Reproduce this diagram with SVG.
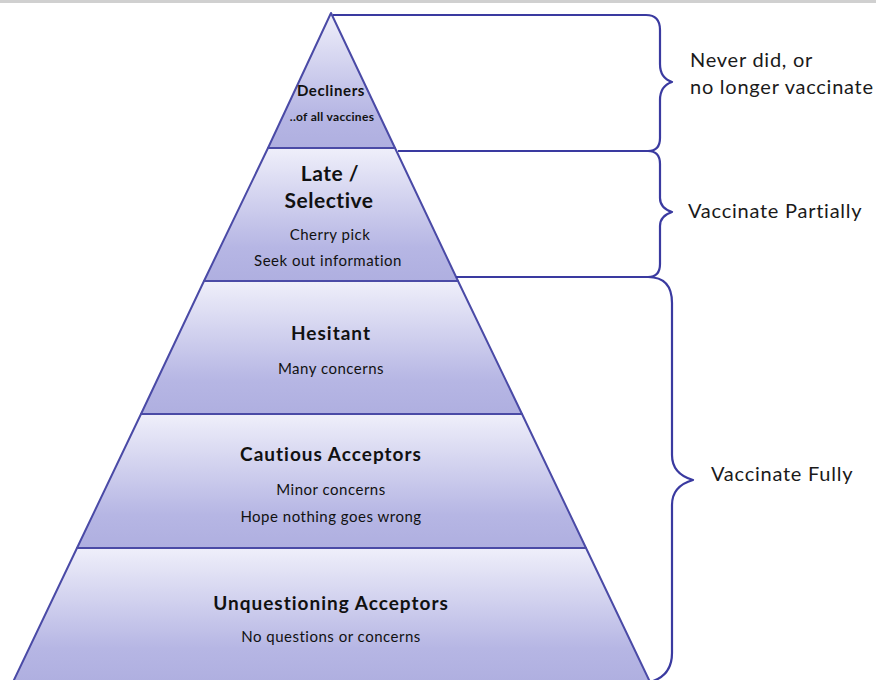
<svg xmlns="http://www.w3.org/2000/svg" width="876" height="680" viewBox="0 0 876 680">
<defs>
<linearGradient id="g" x1="0" y1="0" x2="0" y2="1">
<stop offset="0" stop-color="#efeffa"/>
<stop offset="0.75" stop-color="#b6b6e4"/>
<stop offset="1" stop-color="#afafe0"/>
</linearGradient>
</defs>
<style>
.lay{fill:url(#g);stroke:#4a4aa6;stroke-width:2;stroke-linejoin:round}
.br{fill:none;stroke:#3a3aa0;stroke-width:2.2;stroke-linejoin:round}
text{font-family:Lato,"Open Sans","Liberation Sans",sans-serif;fill:#111;text-anchor:middle}
.h{font-weight:bold}
.b{font-weight:bold;font-size:19px;letter-spacing:1px}
.s{font-size:15px;letter-spacing:0.5px}
.r{font-size:20px;letter-spacing:0.75px;text-anchor:start;fill:#1a1a1a}
</style>
<rect x="0" y="0" width="876" height="3" fill="#d0d0d0"/>
<g id="decliners">
<polygon class="lay" points="331,13 395,148 268,148"/>
<text class="h" x="331" y="96" font-size="15" letter-spacing="0.6">Decliners</text>
<text class="h" x="332" y="121" font-size="12" letter-spacing="0.3">..of all vaccines</text>
</g>
<g id="late-selective">
<polygon class="lay" points="268,148 395,148 458,281 204,281"/>
<text class="h" x="330" y="181" font-size="21" letter-spacing="0.5">Late /</text>
<text class="h" x="329" y="208" font-size="21" letter-spacing="0.5">Selective</text>
<text class="s" x="330" y="240">Cherry pick</text>
<text class="s" x="328" y="266">Seek out information</text>
</g>
<g id="hesitant">
<polygon class="lay" points="204,281 458,281 522,414 141,414"/>
<text class="b" x="331" y="340">Hesitant</text>
<text class="s" x="331" y="374">Many concerns</text>
</g>
<g id="cautious">
<polygon class="lay" points="141,414 522,414 586,548 77,548"/>
<text class="b" x="331" y="461">Cautious Acceptors</text>
<text class="s" x="331" y="495">Minor concerns</text>
<text class="s" x="331" y="522">Hope nothing goes wrong</text>
</g>
<g id="unquestioning">
<polygon class="lay" points="77,548 586,548 650,682 13,682"/>
<text class="b" x="331" y="610">Unquestioning Acceptors</text>
<text class="s" x="331" y="642">No questions or concerns</text>
</g>
<g id="connectors">
<path class="br" d="M333,15 H646 Q660,15 660,30 V64 Q660,78 672,82 Q660,86 660,100 V138 Q660,151 648,151 H398"/>
<path class="br" d="M648,151 Q660,151 660,164 V198 Q660,208 672,212 Q660,216 660,226 V264 Q660,277 648,277 H456"/>
<path class="br" d="M648,277 Q672,277 672,303 V455 Q672,474 693,480 Q672,486 672,505 V653 Q672,676 650,682"/>
</g>
<g id="labels">
<text class="r" x="690" y="67">Never did, or</text>
<text class="r" x="690" y="94">no longer vaccinate</text>
<text class="r" x="688" y="218">Vaccinate Partially</text>
<text class="r" x="711" y="481">Vaccinate Fully</text>
</g>
</svg>
